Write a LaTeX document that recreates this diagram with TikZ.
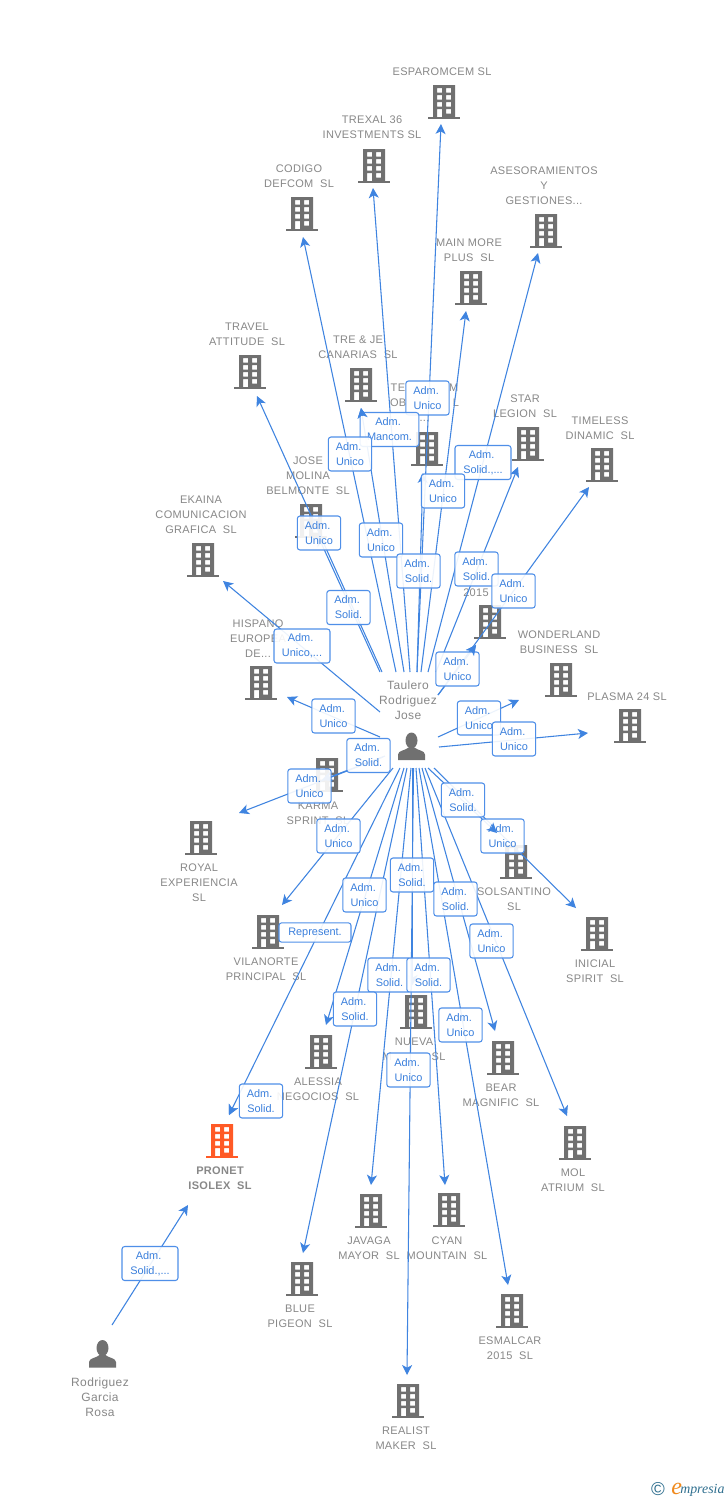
\documentclass[tikz,border=0pt]{standalone}
\usepackage{fontspec}
\setmainfont{Liberation Sans}
\newfontfamily\logofont{Liberation Serif}
\newfontfamily\namefont[LetterSpace=3]{Liberation Sans}
\usetikzlibrary{arrows.meta,calc}
\definecolor{linkblue}{HTML}{3F84E0}
\definecolor{boxblue}{HTML}{4F8FE8}
\definecolor{txtblue}{HTML}{3A7FDC}
\definecolor{greytxt}{HTML}{888888}
\definecolor{icongrey}{HTML}{707070}
\definecolor{hotorange}{HTML}{FF5A26}
\definecolor{logoteal}{HTML}{2F6F8F}
\definecolor{logoorange}{HTML}{F08A1D}
\tikzset{
  conn/.style={draw=linkblue,line width=0.8pt,-{Stealth[length=7.5pt,width=7.5pt,inset=2pt]}},
  lab/.style={draw=boxblue,line width=0.8pt,fill=white,fill opacity=0.9,text opacity=1,rounded corners=2pt,
     text=txtblue,font=\fontsize{8.2}{11.25}\selectfont,align=center,inner sep=0pt,
     minimum width=32.5pt,minimum height=25.5pt},
  cname/.style={text=greytxt,font=\namefont\fontsize{8.25}{11.25}\selectfont,align=center,inner sep=0pt,anchor=north,yshift=-2.25pt},
  bname/.style={cname,font=\namefont\fontsize{8.25}{11.25}\selectfont\bfseries},
  pname/.style={cname,font=\namefont\fontsize{9}{11.25}\selectfont},
  anchorpt/.style={inner sep=0pt,minimum size=0pt}
}
% building icon, centred at the named node
\newcommand{\bicon}[4][icongrey]{%
  \node[anchorpt] (#2) at (#3,#4) {};
  \begin{scope}[shift={(#2)}]
    \fill[#1,even odd rule] (-11,-17) rectangle (11,15)
      (-7,-14) rectangle (-2,-9.5) (2,-14) rectangle (7,-9.5)
      (-7,-7) rectangle (-2,-2.5) (2,-7) rectangle (7,-2.5)
      (-7,0) rectangle (-2,4.5) (2,0) rectangle (7,4.5)
      (-7,7) rectangle (-2,15) (2,7) rectangle (7,11.5);
    \fill[#1] (-16,15) rectangle (16,17);
  \end{scope}}
\newcommand{\picon}[3]{%
  \node[anchorpt] (#1) at (#2,#3) {};
  \begin{scope}[shift={(#1)}]
    \fill[icongrey] (0,-6) ellipse (6 and 8);
    \fill[icongrey] (-13.5,13.5) -- (-13.5,8) .. controls (-13.5,4) and (-6,4) .. (-3,1) -- (3,1)
       .. controls (6,4) and (13.5,4) .. (13.5,8) -- (13.5,13.5) -- cycle;
  \end{scope}}
% connector between two named free ends
\newcommand{\lnk}[3]{%
  \coordinate (s#1) at (#2);
  \coordinate (t#1) at (#3);
  \draw[conn] (s#1) -- (t#1);}
\newcommand{\retip}[1]{\draw[conn] ($(t#1)!6pt!(s#1)$) -- (t#1);}
\newcommand{\bx}[3]{\node[lab] (#1) at (#2) {#3};}
\newcommand{\wbx}[4]{\node[lab,minimum width=#1pt] (#2) at (#3) {#4};}
\newcommand{\px}[1]{\hspace*{#1pt}}
\newcommand{\Ad}{Adm.\px{2.2}}
\newcommand{\dsp}{\ \ }
\begin{document}
\begin{tikzpicture}[x=0.75pt,y=-0.75pt]
\useasboundingbox (0,0) rectangle (728,1500);
\fill[white] (0,0) rectangle (728,1500);

% --- company icons and names ---
\bicon{esp}{444}{102} \node[cname] (espn) at (442,65) {ESPAROMCEM SL};
\bicon{tre}{374}{166} \node[cname] (tren) at (372,113) {TREXAL 36\\INVESTMENTS SL};
\bicon{cod}{302}{214} \node[cname] (codn) at (299,162) {CODIGO\\DEFCOM\dsp SL};
\bicon{ase}{546}{231} \node[cname] (asen) at (544,164) {ASESORAMIENTOS\\Y\\GESTIONES...};
\bicon{mai}{471}{288} \node[cname] (main) at (469,236) {MAIN MORE\\PLUS\dsp SL};
\bicon{tra}{250}{372} \node[cname] (tran) at (247,320) {TRAVEL\\ATTITUDE\dsp SL};
\bicon{trj}{361}{385} \node[cname] (trjn) at (358,333) {TRE \& JE\\CANARIAS\dsp SL};
\bicon{tem}{427}{449} \node[cname] (temn) at (424.5,381) {TE\px{33}M\\OB\px{35}L\\...};
\bicon{sta}{528}{444} \node[cname] (stan) at (525,392) {STAR\\LEGION\dsp SL};
\bicon{tim}{602}{465} \node[cname] (timn) at (600,414) {TIMELESS\\DINAMIC\dsp SL};
\bicon{jos}{311}{521} \node[cname] (josn) at (308,454) {JOSE\\MOLINA\\BELMONTE\dsp SL};
\bicon{eka}{203}{560} \node[cname] (ekan) at (201,493) {EKAINA\\COMUNICACION\\GRAFICA\dsp SL};
\bicon{num}{490}{622} \node[cname] (numn) at (476,586) {2015};
\bicon{his}{261}{683} \node[cname] (hisn) at (258,617) {HISPANO\\EUROPEA\\DE...};
\bicon{won}{561}{680} \node[cname] (wonn) at (559,628) {WONDERLAND\\BUSINESS\dsp SL};
\bicon{pla}{630}{726} \node[cname] (plan) at (627,690) {PLASMA 24 SL};
\bicon{kar}{327}{775} \node[cname] (karn) at (318,799) {KARMA\\SPRINT\dsp SL};
\bicon{roy}{201}{838} \node[cname] (royn) at (199,861) {ROYAL\\EXPERIENCIA\\SL};
\bicon{vil}{268}{932} \node[cname] (viln) at (266,955) {VILANORTE\\PRINCIPAL\dsp SL};
\bicon{sol}{516}{862} \node[cname] (soln) at (514,885) {SOLSANTINO\\SL};
\bicon{ini}{597}{934} \node[cname] (inin) at (595,957) {INICIAL\\SPIRIT\dsp SL};
\bicon{nue}{416}{1012} \node[cname] (nuen) at (414,1035) {NUEVA\\M\px{30}SL};
\bicon{ale}{321}{1052} \node[cname] (alen) at (318,1075) {ALESSIA\\NEGOCIOS\dsp SL};
\bicon{bea}{503}{1058} \node[cname] (bean) at (501,1081) {BEAR\\MAGNIFIC\dsp SL};
\bicon{mol}{575}{1143} \node[cname] (moln) at (573,1166) {MOL\\ATRIUM\dsp SL};
\bicon[hotorange]{pro}{222}{1141} \node[bname] (pron) at (220,1164) {PRONET\\ISOLEX\dsp SL};
\bicon{jav}{371}{1211} \node[cname] (javn) at (369,1234) {JAVAGA\\MAYOR\dsp SL};
\bicon{cya}{449}{1210} \node[cname] (cyan) at (447,1234) {CYAN\\MOUNTAIN\dsp SL};
\bicon{blu}{302}{1279} \node[cname] (blun) at (300,1302) {BLUE\\PIGEON\dsp SL};
\bicon{esm}{512}{1311} \node[cname] (esmn) at (510,1334) {ESMALCAR\\2015\dsp SL};
\bicon{rea}{408}{1401} \node[cname] (rean) at (406,1424) {REALIST\\MAKER\dsp SL};

% --- persons ---
\picon{tau}{411.5}{746.5}
\node[pname] (taun) at (408,678) {Taulero\\Rodriguez\\Jose};
\picon{ros}{102.5}{1354}
\node[pname] (rosn) at (100,1375) {Rodriguez\\Garcia\\Rosa};

% --- connectors ---
\lnk{a}{417,672}{441,124}
\lnk{b}{410,672}{373,188}
\lnk{c}{396,672}{303,237}
\lnk{d}{404,672}{361,408}
\lnk{e}{382,672}{257,396}
\lnk{f}{380,672}{318,536}
\lnk{g}{417,672}{423,473}
\lnk{h}{421,672}{466,311}
\lnk{i}{428,672}{538,253}
\lnk{j}{436,672}{518,467}
\lnk{k}{438,695}{589,487}
\lnk{l}{438,695}{476,645}
\lnk{m}{438,737}{519,700}
\lnk{n}{439,747}{588,733}
\lnk{o}{380,712}{223,581}
\lnk{p}{380,737}{287,697}
\lnk{q}{385,756}{322,780}
\lnk{r}{383,757}{239,813}
\lnk{s}{393,768}{282,905}
\lnk{u}{400,768}{229,1115}
\lnk{v}{404,768}{326,1025}
\lnk{w}{407,768}{303,1253}
\lnk{x}{411,768}{371,1185}
\lnk{y}{412.5,768}{412.5,985}
\lnk{z}{413.5,768}{407,1375}
\lnk{aa}{416,768}{445,1185}
\lnk{ab}{419,768}{508,1285}
\lnk{ac}{422,768}{495,1031}
\lnk{ad}{425,768}{567,1116}
\lnk{ae}{428,768}{497,833}
\lnk{af}{434,768}{576,908}
\lnk{ag}{112,1325}{188,1205}

% --- role labels ---
\bx{l1}{427.5,398}{\Ad\\Unico}
\wbx{44}{l2}{389.5,429.5}{\Ad\\Mancom.}
\bx{l3}{350,454}{\Ad\\Unico}
\wbx{42}{l4}{483,462.5}{\Ad\\Solid.,...}
\bx{l5}{443,491}{\Ad\\Unico}
\bx{l6}{319,533}{\Ad\\Unico}
\bx{l7}{381,540}{\Ad\\Unico}
\bx{l8}{418.5,571}{\Ad\\Solid.}
\bx{l9}{476.5,569}{\Ad\\Solid.}
\bx{l10}{513.5,591}{\Ad\\Unico}
\bx{l11}{348.5,607.5}{\Ad\\Solid.}
\wbx{42}{l12}{302,646}{\Ad\\Unico,...}
\bx{l13}{457.5,669}{\Ad\\Unico}
\bx{l14}{333.5,716}{\Ad\\Unico}
\bx{l15}{479,718}{\Ad\\Unico}
\bx{l16}{514,739}{\Ad\\Unico}
\bx{l17}{368.5,755.5}{\Ad\\Solid.}
\bx{l18}{309.5,786}{\Ad\\Unico}
\bx{l19}{463,800}{\Ad\\Solid.}
\bx{l20}{502.5,836}{\Ad\\Unico}
\bx{l21}{338.5,836}{\Ad\\Unico}
\bx{l22}{412,875}{\Ad\\Solid.}
\bx{l23}{364.5,895}{\Ad\\Unico}
\bx{l24}{455.5,899}{\Ad\\Solid.}
\bx{l25}{491.5,941}{\Ad\\Unico}
\node[lab,minimum width=54pt,minimum height=14.5pt] (l26) at (315,932.5) {Represent.};
\bx{l27}{389.5,975}{\Ad\\Solid.}
\bx{l28}{428.5,975}{\Ad\\Solid.}
\bx{l29}{355,1009}{\Ad\\Solid.}
\bx{l30}{460.5,1025}{\Ad\\Unico}
\bx{l31}{408.5,1070}{\Ad\\Unico}
\bx{l32}{261,1101}{\Ad\\Solid.}
\wbx{42}{l33}{150,1263.5}{\Ad\\Solid.,...}

% arrowheads that lie over a label
\retip{d} \retip{ae} \retip{l} \retip{u}

% --- logo ---
\node[inner sep=0pt,text=logoteal,font=\fontsize{14}{15}\selectfont] (copy) at (658,1489) {©};
\node[inner sep=0pt,anchor=base west,text=logoorange,font=\logofont\itshape\fontsize{18}{18}\selectfont] (loge) at (671,1494.5) {e};
\node[inner sep=0pt,anchor=base west,text=logoteal,font=\logofont\itshape\fontsize{10.4}{12}\selectfont] (logr) at (680,1493.5) {mpresia};
\end{tikzpicture}
\end{document}
